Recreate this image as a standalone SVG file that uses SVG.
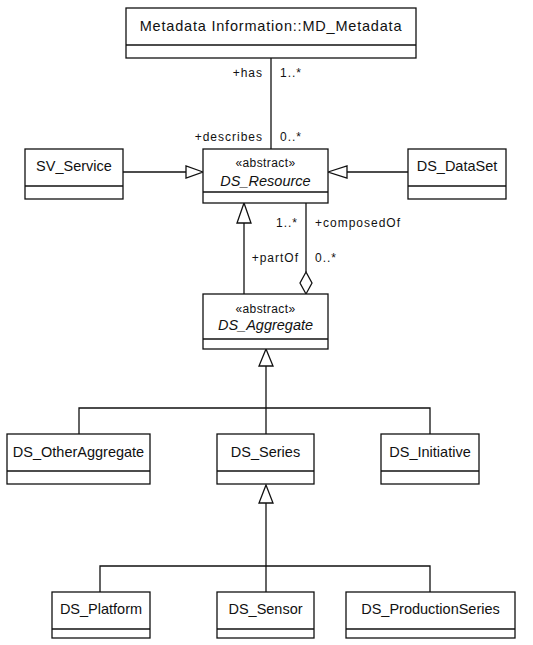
<svg xmlns="http://www.w3.org/2000/svg" width="533" height="645" viewBox="0 0 533 645">
<style>
.box{fill:#fff;stroke:#111;stroke-width:1.3}
.t{font-family:"Liberation Sans",Arial,sans-serif;font-size:14.5px;fill:#111;text-anchor:middle}
.st{font-family:"Liberation Sans",Arial,sans-serif;font-size:12px;fill:#111;text-anchor:middle;letter-spacing:0.4px}
.it{font-style:italic}
.lbl{font-family:"Liberation Sans",Arial,sans-serif;font-size:12px;fill:#111;letter-spacing:1px}
.ln{fill:none;stroke:#111;stroke-width:1.3}
.tri{fill:#fff;stroke:#111;stroke-width:1.3}
</style>
<rect width="533" height="645" fill="#fff"/>
<g id="connectors">
<line class="ln" x1="271" y1="58" x2="271" y2="149"/>
<line class="ln" x1="123" y1="172" x2="186" y2="172"/>
<polygon class="tri" points="203,172 186,166 186,178"/>
<line class="ln" x1="408" y1="172" x2="347" y2="172"/>
<polygon class="tri" points="328,172 347,166 347,178"/>
<line class="ln" x1="244" y1="294" x2="244" y2="223"/>
<polygon class="tri" points="244,203 237,223 251,223"/>
<line class="ln" x1="306" y1="203" x2="306" y2="272"/>
<polygon class="tri" points="306,272 312,283 306,294 300,283"/>
<line class="ln" x1="266" y1="366" x2="266" y2="434"/>
<polygon class="tri" points="266,349 259,366 273,366"/>
<polyline class="ln" points="79,434 79,408 430,408 430,434"/>
<line class="ln" x1="266" y1="503" x2="266" y2="592"/>
<polygon class="tri" points="266,485 259,503 273,503"/>
<polyline class="ln" points="100,592 100,566 430,566 430,592"/>
<text class="lbl" x="263" y="77" text-anchor="end">+has</text>
<text class="lbl" x="280" y="77">1..*</text>
<text class="lbl" x="263" y="141" text-anchor="end">+describes</text>
<text class="lbl" x="280" y="141">0..*</text>
<text class="lbl" x="298" y="227" text-anchor="end">1..*</text>
<text class="lbl" x="315" y="227">+composedOf</text>
<text class="lbl" x="299" y="262" text-anchor="end">+partOf</text>
<text class="lbl" x="315" y="262">0..*</text>
</g>
<g id="MD_Metadata">
<rect class="box" x="126" y="8" width="290" height="50"/>
<line class="ln" x1="126" y1="45" x2="416" y2="45"/>
<text class="t" x="271" y="31" style="letter-spacing:0.8px">Metadata Information::MD_Metadata</text>
</g>
<g id="SV_Service">
<rect class="box" x="25" y="149" width="98" height="50"/>
<line class="ln" x1="25" y1="186" x2="123" y2="186"/>
<text class="t" x="74" y="171">SV_Service</text>
</g>
<g id="DS_Resource">
<rect class="box" x="203" y="149" width="125" height="54"/>
<line class="ln" x1="203" y1="192" x2="328" y2="192"/>
<text class="st" x="265.5" y="167">«abstract»</text>
<text class="t it" x="265.5" y="186">DS_Resource</text>
</g>
<g id="DS_DataSet">
<rect class="box" x="408" y="149" width="98" height="50"/>
<line class="ln" x1="408" y1="186" x2="506" y2="186"/>
<text class="t" x="457" y="171">DS_DataSet</text>
</g>
<g id="DS_Aggregate">
<rect class="box" x="203" y="294" width="125" height="55"/>
<line class="ln" x1="203" y1="339" x2="328" y2="339"/>
<text class="st" x="265.5" y="313">«abstract»</text>
<text class="t it" x="265.5" y="330">DS_Aggregate</text>
</g>
<g id="DS_OtherAggregate">
<rect class="box" x="7" y="434" width="143" height="50"/>
<line class="ln" x1="7" y1="471" x2="150" y2="471"/>
<text class="t" x="78.5" y="457">DS_OtherAggregate</text>
</g>
<g id="DS_Series">
<rect class="box" x="217" y="434" width="97" height="50"/>
<line class="ln" x1="217" y1="471" x2="314" y2="471"/>
<text class="t" x="265.5" y="457">DS_Series</text>
</g>
<g id="DS_Initiative">
<rect class="box" x="381" y="434" width="98" height="50"/>
<line class="ln" x1="381" y1="471" x2="479" y2="471"/>
<text class="t" x="430" y="457">DS_Initiative</text>
</g>
<g id="DS_Platform">
<rect class="box" x="52" y="592" width="98" height="46"/>
<line class="ln" x1="52" y1="629" x2="150" y2="629"/>
<text class="t" x="101" y="614">DS_Platform</text>
</g>
<g id="DS_Sensor">
<rect class="box" x="217" y="592" width="97" height="46"/>
<line class="ln" x1="217" y1="629" x2="314" y2="629"/>
<text class="t" x="265.5" y="614">DS_Sensor</text>
</g>
<g id="DS_ProductionSeries">
<rect class="box" x="346" y="592" width="169" height="46"/>
<line class="ln" x1="346" y1="629" x2="515" y2="629"/>
<text class="t" x="430.5" y="614">DS_ProductionSeries</text>
</g>
</svg>
